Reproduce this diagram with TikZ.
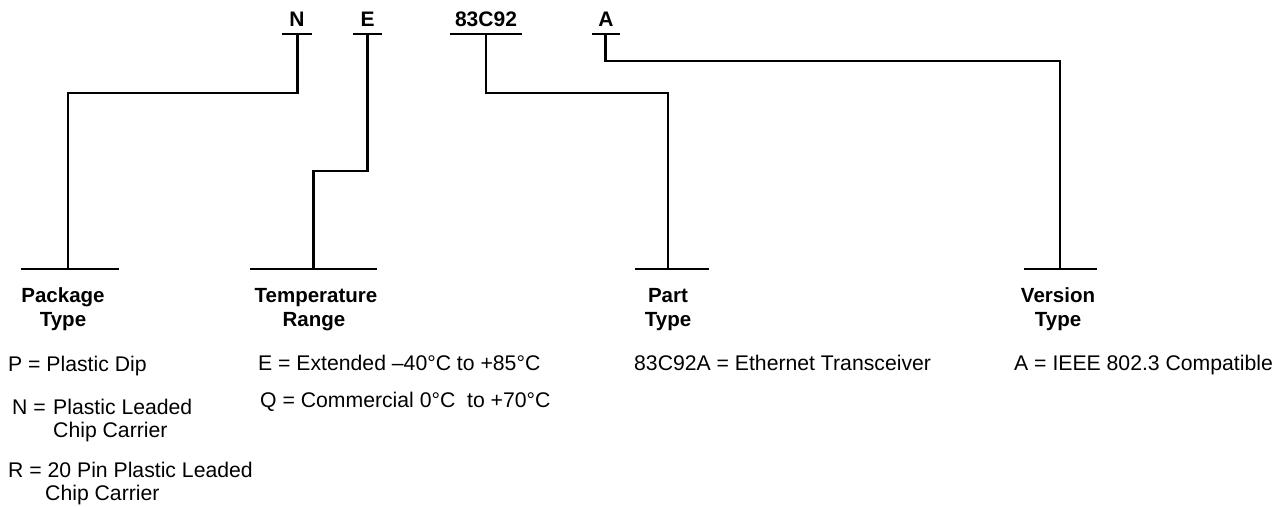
\documentclass[tikz,border=0pt]{standalone}
\usepackage{fontspec}
\setmainfont{Liberation Sans}
\begin{document}
\begin{tikzpicture}[x=1pt,y=-1pt,
  wire/.style={line width=2.6pt,line cap=butt,line join=miter},
  lbl/.style={inner sep=0pt,anchor=base,font=\fontsize{21}{24}\selectfont\bfseries},
  hdr/.style={inner sep=0pt,anchor=base,font=\fontsize{20.5}{24}\selectfont\bfseries},
  txt/.style={inner sep=0pt,anchor=base west,font=\fontsize{21.2}{24}\selectfont}]
\useasboundingbox (0,0) rectangle (1284,506);

% top labels
\node[lbl] (labN) at (297,27) {N};
\node[lbl] (labE) at (367.5,27) {E};
\node[lbl] (labP) at (486,27) {83C92};
\node[lbl] (labA) at (606,27) {A};

% top bars
\draw[wire] (282,34) -- (312,34);
\draw[wire] (353,34) -- (382,34);
\draw[wire] (450,34) -- (522,34);
\draw[wire] (592,34) -- (620,34);
\coordinate (nTop) at (297.5,34);
\coordinate (eTop) at (367.5,34);
\coordinate (pTop) at (486,34);
\coordinate (aTop) at (605.5,34);

% bottom bars
\draw[wire] (21,269) -- (119,269);
\draw[wire] (250,269) -- (377,269);
\draw[wire] (635,269) -- (709,269);
\draw[wire] (1024,269) -- (1097,269);
\coordinate (pkgBar) at (68,269);
\coordinate (tmpBar) at (313.5,269);
\coordinate (prtBar) at (668,269);
\coordinate (verBar) at (1060,269);

% connectors
\draw[wire] (nTop) -- (nTop |- 0,93) -| (pkgBar);
\draw[wire] (eTop) -- (eTop |- 0,171) -| (tmpBar);
\draw[wire] (pTop) -- (pTop |- 0,93) -| (prtBar);
\draw[wire] (aTop) -- (aTop |- 0,61) -| (verBar);

% headers
\node[hdr] (hPkg1) at (63,302) {Package};
\node[hdr] (hPkg2) at (63,326) {Type};
\node[hdr] (hTmp1) at (316,302) {Temperature};
\node[hdr] (hTmp2) at (314,326) {Range};
\node[hdr] (hPrt1) at (668,302) {Part};
\node[hdr] (hPrt2) at (668,326) {Type};
\node[hdr] (hVer1) at (1058,302) {Version};
\node[hdr] (hVer2) at (1058,326) {Type};

% package type
\node[txt] (p1) at (8,371) {P = Plastic Dip};
\node[txt] (p2a) at (12,414) {N =};
\node[txt] (p2b) at (53,414) {Plastic Leaded};
\node[txt] (p2c) at (53,437) {Chip Carrier};
\node[txt] (p3a) at (8,477) {R = 20 Pin Plastic Leaded};
\node[txt] (p3b) at (45,500) {Chip Carrier};

% temperature range
\node[txt] (t1) at (258,370) {E = Extended {--}40°C to +85°C};
\node[txt] (t2) at (260,407) {Q = Commercial 0°C \ to +70°C};

% part type
\node[txt] (pt1) at (634,370) {83C92A = Ethernet Transceiver};

% version type
\node[txt] (v1) at (1014,370) {A = IEEE 802.3 Compatible};
\end{tikzpicture}
\end{document}
